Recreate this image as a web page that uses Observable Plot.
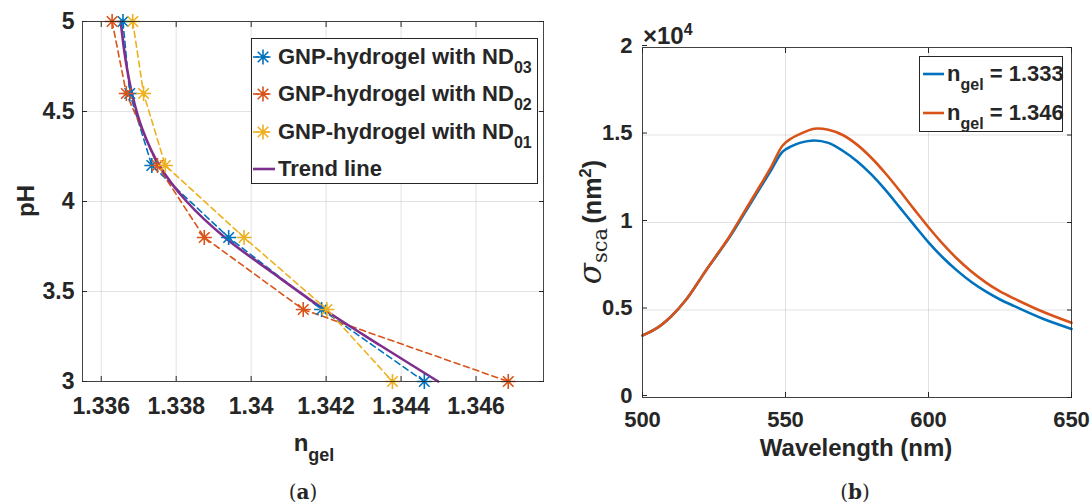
<!DOCTYPE html>
<html><head><meta charset="utf-8">
<script src="https://cdn.jsdelivr.net/npm/d3@7"></script>
<script src="https://cdn.jsdelivr.net/npm/@observablehq/plot@0.6"></script>
<style>
body{margin:0;background:#fff;}
#fig{position:relative;width:1091px;height:503px;overflow:hidden;font-family:"Liberation Sans",Arial,sans-serif;color:#262626;}
#fig svg{position:absolute;top:0;}
.abs{position:absolute;white-space:nowrap;line-height:1;}
.c{transform:translate(-50%,-50%);}
.leg{position:absolute;border:1px solid #262626;background:#fff;box-sizing:border-box;}
.ent{position:absolute;white-space:nowrap;font-weight:bold;font-size:22px;line-height:1;}
.ent sub{font-size:16px;vertical-align:-9px;line-height:0;}
</style></head><body><div id="fig"></div>
<script>
// ---------- Panel (a) data ----------
const phLevels = [5, 4.6, 4.2, 3.8, 3.4, 3];
const nND03 = [1.33658, 1.33676, 1.33735, 1.33940, 1.34188, 1.34462];
const nND02 = [1.33629, 1.33667, 1.33750, 1.33875, 1.34139, 1.34686];
const nND01 = [1.33684, 1.33713, 1.33771, 1.33981, 1.34202, 1.34377];
const trendPH = [5, 4.8, 4.6, 4.4, 4.2, 4.0, 3.8, 3.6, 3.4, 3.2, 3.0];
const trendN = [1.33652, 1.33664, 1.33682, 1.33710, 1.33755, 1.33828, 1.33930, 1.34060, 1.34195, 1.34345, 1.34499];
const nTicks = [1.336, 1.338, 1.34, 1.342, 1.344, 1.346];
const nTickLabels = ["1.336", "1.338", "1.34", "1.342", "1.344", "1.346"];
const phTicks = [3, 3.5, 4, 4.5, 5];
const phTickLabels = ["3", "3.5", "4", "4.5", "5"];
const seriesNames = ["03", "02", "01"];

// ---------- Panel (b) data ----------
const wavelength = [500,505,510,515,520,522,525,530,535,540,545,549,552,555,560,565,570,575,580,585,590,595,600,605,610,615,620,625,630,640,650];
const sca1333 = [3540,3960,4630,5540,6720,7220,7900,9050,10350,11680,13000,14050,14350,14550,14690,14550,14100,13500,12750,11850,10850,9850,8870,8000,7250,6600,6060,5600,5220,4500,3920];
const sca1346 = [3540,3960,4630,5540,6720,7220,7920,9100,10450,11800,13180,14400,14800,15050,15360,15300,15000,14450,13700,12800,11800,10750,9730,8780,7930,7200,6580,6060,5650,4900,4270];
const wlTicks = [500, 550, 600, 650];
const scaTicks = [0, 5000, 10000, 15000, 20000];
const scaTickLabels = ["0", "0.5", "1", "1.5", "2"];
const ngelValues = ["1.333", "1.346"];

const BLUE = "#0072BD", ORANGE = "#D95319", YELLOW = "#EDB120", PURPLE = "#7E2F8E";
const AX = "#262626";

const asterisk = {draw(ctx, size){
  const r = Math.sqrt(size / Math.PI), d = r * Math.SQRT1_2;
  ctx.moveTo(-r,0); ctx.lineTo(r,0); ctx.moveTo(0,-r); ctx.lineTo(0,r);
  ctx.moveTo(-d,-d); ctx.lineTo(d,d); ctx.moveTo(-d,d); ctx.lineTo(d,-d);
}};

const fig = document.getElementById("fig");
const svgStyle = {fontFamily:"'Liberation Sans', Arial, sans-serif", fontSize:"23px", fontWeight:"bold", color:AX, background:"transparent", overflow:"visible"};

// ---------- Panel (a) ----------
const colorsA = [BLUE, ORANGE, YELLOW];
const nArrays = [nND03, nND02, nND01];
const seriesData = nArrays.map(arr => phLevels.map((p, i) => ({pH: p, n: arr[i]})));
const trendData = trendPH.map((p, i) => ({pH: p, n: trendN[i]}));
const fmtN = d => nTickLabels[nTicks.indexOf(d)];
const fmtPH = d => phTickLabels[phTicks.indexOf(d)];

const plotA = Plot.plot({
  width: 560, height: 440,
  marginLeft: 82, marginRight: 17, marginTop: 21, marginBottom: 59,
  x: {domain: [1.3355, 1.3478], label: null},
  y: {domain: [3, 5], label: null},
  style: svgStyle,
  marks: [
    Plot.gridX(nTicks, {stroke: AX, strokeOpacity: 0.13}),
    Plot.gridY(phTicks, {stroke: AX, strokeOpacity: 0.13}),
    ...seriesData.map((d, k) => Plot.line(d, {x: "n", y: "pH", stroke: colorsA[k], strokeWidth: 1.6, strokeDasharray: "6,4"})),
    Plot.line(trendData, {x: "n", y: "pH", stroke: PURPLE, strokeWidth: 2.6, curve: "catmull-rom"}),
    ...seriesData.map((d, k) => Plot.dot(d, {x: "n", y: "pH", symbol: asterisk, r: 7.5, fill: "none", stroke: colorsA[k], strokeWidth: 1.6})),
    Plot.frame({stroke: AX, strokeOpacity: 0.85}),
    Plot.axisX(nTicks, {anchor: "bottom", tickSize: -5, tickPadding: 21, tickFormat: fmtN, label: null, stroke: AX}),
    Plot.axisX(nTicks, {anchor: "top", tickSize: -5, tickFormat: () => "", label: null, stroke: AX}),
    Plot.axisY(phTicks, {anchor: "left", tickSize: -5, tickPadding: 13, tickFormat: fmtPH, label: null, stroke: AX}),
    Plot.axisY(phTicks, {anchor: "right", tickSize: -5, tickFormat: () => "", label: null, stroke: AX})
  ]
});
plotA.style.left = "0px";
fig.appendChild(plotA);

// ---------- Panel (b) ----------
const curveData = [sca1333, sca1346].map(arr => wavelength.map((w, i) => ({w, s: arr[i]})));
const colorsB = [BLUE, ORANGE];
const fmtS = d => scaTickLabels[scaTicks.indexOf(d)];

const plotB = Plot.plot({
  width: 531, height: 440,
  marginLeft: 82, marginRight: 20, marginTop: 47, marginBottom: 43,
  x: {domain: [500, 650], label: null},
  y: {domain: [0, 20000], label: null},
  style: {...svgStyle, fontSize: "22px"},
  marks: [
    Plot.gridX(wlTicks, {stroke: AX, strokeOpacity: 0.13}),
    Plot.gridY(scaTicks, {stroke: AX, strokeOpacity: 0.13}),
    ...curveData.map((d, k) => Plot.line(d, {x: "w", y: "s", stroke: colorsB[k], strokeWidth: 2.6, curve: "catmull-rom"})),
    Plot.frame({stroke: AX, strokeOpacity: 0.85}),
    Plot.axisX(wlTicks, {anchor: "bottom", tickSize: -5, tickPadding: 19, tickFormat: d => String(d), label: null, stroke: AX}),
    Plot.axisX(wlTicks, {anchor: "top", tickSize: -5, tickFormat: () => "", label: null, stroke: AX}),
    Plot.axisY(scaTicks, {anchor: "left", tickSize: -5, tickPadding: 15, tickFormat: fmtS, label: null, stroke: AX, dy: -2}),
    Plot.axisY(scaTicks, {anchor: "right", tickSize: -5, tickFormat: () => "", label: null, stroke: AX})
  ]
});
plotB.style.left = "560px";
fig.appendChild(plotB);

// ---------- Labels ----------
function addDiv(html, x, y, css, cls = "abs c") {
  const d = document.createElement("div");
  d.className = cls; d.innerHTML = html;
  d.style.left = x + "px"; d.style.top = y + "px";
  Object.assign(d.style, css || {});
  fig.appendChild(d);
  return d;
}
addDiv("pH", 26, 201, {fontSize: "24px", fontWeight: "bold", transform: "translate(-50%,-50%) rotate(-90deg)"});
addDiv('n<sub style="font-size:18px;vertical-align:-10px;line-height:0">gel</sub>', 314, 443, {fontSize: "24px", fontWeight: "bold"});
addDiv("Wavelength (nm)", 856, 448, {fontSize: "24px", fontWeight: "bold"});
addDiv("(<b>a</b>)", 303, 492, {fontSize: "20px", fontFamily: "'DejaVu Serif', serif"});
addDiv("(<b>b</b>)", 855, 492, {fontSize: "20px", fontFamily: "'DejaVu Serif', serif"});
addDiv('<span style="font-family:\'DejaVu Serif\',serif;font-style:italic;font-size:31px">σ</span><span style="font-family:\'DejaVu Serif\',serif;font-size:21px;position:relative;top:6px">sca</span> <span style="font-weight:bold;font-size:25px">(nm<sup style="font-size:17px;line-height:0">2</sup>)</span>',
  590, 222, {transform: "translate(-50%,-50%) rotate(-90deg)"});
addDiv('×10<sup style="font-size:16px;line-height:0">4</sup>', 643, 36, {fontSize: "24px", fontWeight: "bold", transform: "translate(0,-50%)"}, "abs");

// ---------- Legend (a) ----------
function iconSVG(color, dashed, star, w) {
  const ns = "http://www.w3.org/2000/svg";
  const s = document.createElementNS(ns, "svg");
  s.setAttribute("width", w); s.setAttribute("height", 20);
  s.style.position = "absolute"; s.style.overflow = "visible";
  const l = document.createElementNS(ns, "line");
  l.setAttribute("x1", 0); l.setAttribute("x2", w); l.setAttribute("y1", 10); l.setAttribute("y2", 10);
  l.setAttribute("stroke", color); l.setAttribute("stroke-width", star ? 1.6 : 2.6);
  if (dashed) l.setAttribute("stroke-dasharray", "6,4");
  s.appendChild(l);
  if (star) {
    const p = document.createElementNS(ns, "path");
    const r = 7.5, d = r * Math.SQRT1_2, cx = w / 2, cy = 10;
    p.setAttribute("d", `M${cx-r},${cy}L${cx+r},${cy}M${cx},${cy-r}L${cx},${cy+r}M${cx-d},${cy-d}L${cx+d},${cy+d}M${cx-d},${cy+d}L${cx+d},${cy-d}`);
    p.setAttribute("stroke", color); p.setAttribute("stroke-width", 1.6); p.setAttribute("fill", "none");
    s.appendChild(p);
  }
  return s;
}
const legA = document.createElement("div");
legA.className = "leg";
Object.assign(legA.style, {left: "251px", top: "38px", width: "287px", height: "146px"});
fig.appendChild(legA);
const rowsA = [57, 94, 132, 169];
seriesNames.forEach((nm, k) => {
  const ic = iconSVG(colorsA[k], true, true, 20);
  ic.style.left = "253px"; ic.style.top = (rowsA[k] - 10) + "px";
  fig.appendChild(ic);
  addDiv(`GNP-hydrogel with ND<sub>${nm}</sub>`, 278, rowsA[k], {transform: "translate(0,-50%)"}, "ent");
});
{
  const ic = iconSVG(PURPLE, false, false, 22);
  ic.style.left = "253px"; ic.style.top = (rowsA[3] - 10) + "px";
  fig.appendChild(ic);
  addDiv("Trend line", 278, rowsA[3], {transform: "translate(0,-50%)"}, "ent");
}

// ---------- Legend (b) ----------
const legB = document.createElement("div");
legB.className = "leg";
Object.assign(legB.style, {left: "919px", top: "56px", width: "144px", height: "76px"});
fig.appendChild(legB);
const rowsB = [74, 113];
ngelValues.forEach((v, k) => {
  const ic = iconSVG(colorsB[k], false, false, 21);
  ic.style.left = "923px"; ic.style.top = (rowsB[k] - 10) + "px";
  fig.appendChild(ic);
  addDiv(`n<sub>gel</sub> = ${v}`, 947, rowsB[k], {transform: "translate(0,-50%)"}, "ent");
});
</script>
</body></html>
